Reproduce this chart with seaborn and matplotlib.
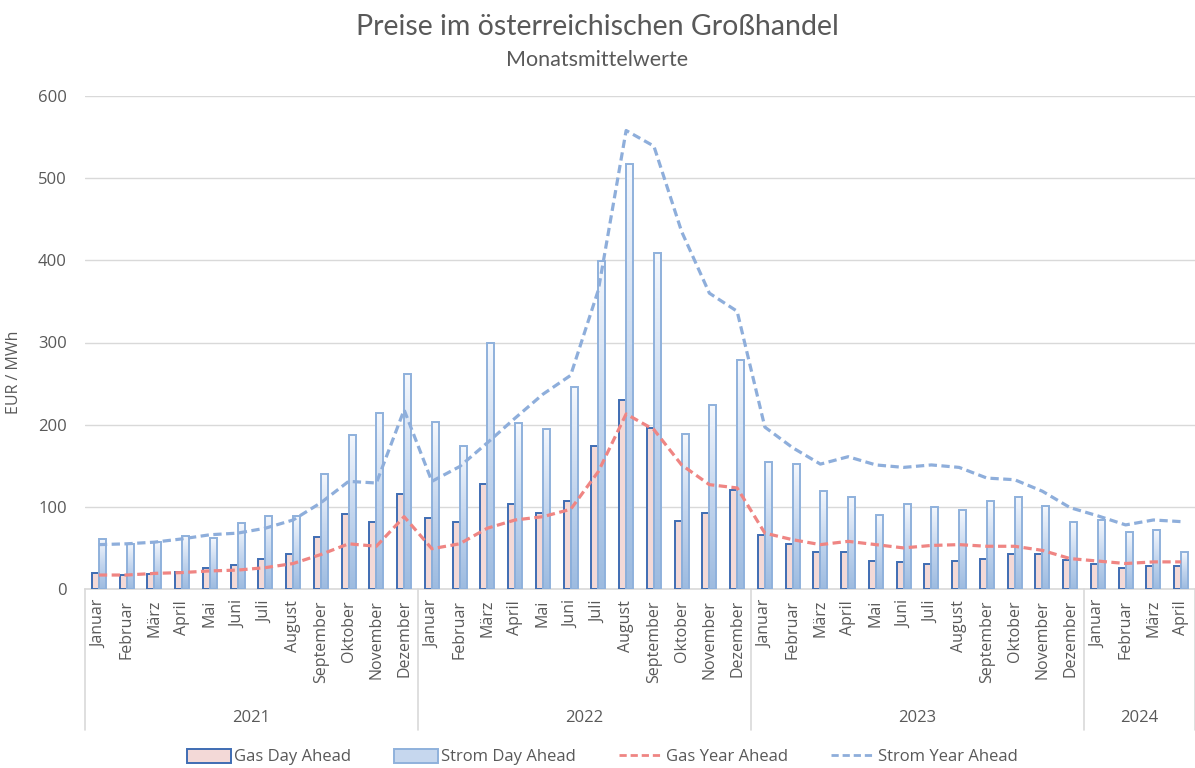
import numpy as np
import pandas as pd
import seaborn as sns
import matplotlib.pyplot as plt
from matplotlib.patches import Patch
from matplotlib.lines import Line2D
from matplotlib.colors import LinearSegmentedColormap

# monthly means, EUR / MWh
months = ["Januar", "Februar", "März", "April", "Mai", "Juni", "Juli",
          "August", "September", "Oktober", "November", "Dezember"]
month_labels = months * 3 + months[:4]
years = ["2021"] * 12 + ["2022"] * 12 + ["2023"] * 12 + ["2024"] * 4

gas_day_ahead = [19, 17, 18, 21, 26, 29, 36, 42, 63, 91, 81, 116,
                 87, 82, 128, 104, 92, 107, 174, 230, 196, 83, 93, 120,
                 66, 55, 45, 45, 34, 33, 31, 34, 37, 42, 42, 35,
                 30, 26, 28, 28]
strom_day_ahead = [61, 55, 57, 64, 62, 80, 89, 89, 140, 188, 214, 262,
                   203, 174, 299, 202, 195, 246, 399, 517, 409, 189, 224, 279,
                   155, 152, 119, 112, 90, 103, 100, 96, 107, 112, 101, 81,
                   84, 69, 72, 45]
gas_year_ahead = [17, 17, 19, 20, 22, 23, 26, 31, 42, 55, 52, 88,
                  49, 55, 74, 84, 88, 97, 143, 213, 194, 151, 127, 123,
                  68, 60, 54, 58, 54, 50, 53, 54, 52, 52, 47, 37,
                  34, 31, 33, 33]
strom_year_ahead = [54, 55, 57, 61, 66, 68, 74, 84, 105, 131, 129, 218,
                    131, 149, 178, 208, 237, 260, 364, 558, 539, 435, 360, 338,
                    197, 172, 152, 161, 151, 148, 151, 148, 135, 133, 119, 99,
                    89, 78, 84, 82]

TXT = "#595959"
GRID = "#d9d9d9"
GAS_FACE = "#f3d9d7"
GAS_EDGE = "#3f6db3"
STROM_EDGE = "#8fb1dc"
GAS_LINE = "#ef8583"
STROM_LINE = "#8eaedb"
FS = 11.5

sns.set_style("white")
plt.rcParams['font.family'] = ['Open Sans', 'DejaVu Sans']

keys = [f"{y}-{m}" for y, m in zip(years, month_labels)]
n = len(keys)
bars = pd.DataFrame({
    "key": keys * 2,
    "value": gas_day_ahead + strom_day_ahead,
    "serie": ["Gas Day Ahead"] * n + ["Strom Day Ahead"] * n,
})

fig = plt.figure(figsize=(11.95, 7.68), dpi=100)
ax = fig.add_axes([85 / 1195, 1 - 589 / 768, 1110 / 1195, 493 / 768])

sns.barplot(data=bars, x="key", y="value", hue="serie", order=keys,
            hue_order=["Gas Day Ahead", "Strom Day Ahead"],
            palette=[GAS_FACE, "#c6d7ee"], saturation=1, width=0.5,
            legend=False, ax=ax, zorder=3)

# gas bars: pink with dark blue outline
for p in ax.containers[0]:
    p.set_edgecolor(GAS_EDGE)
    p.set_linewidth(1.4)

# strom bars: vertical gradient light -> blue
grad = np.linspace(0, 1, 128).reshape(-1, 1)
cmap = LinearSegmentedColormap.from_list("strom", ["#9dbbe0", "#c4d6ee", "#f5f8fd"])
for p in ax.containers[1]:
    x0, w, h = p.get_x(), p.get_width(), p.get_height()
    ax.imshow(grad, cmap=cmap, extent=[x0, x0 + w, 0, h], origin="lower",
              aspect="auto", zorder=2.9, interpolation="bilinear")
    p.set_facecolor("none")
    p.set_edgecolor(STROM_EDGE)
    p.set_linewidth(1.4)

pos = list(range(n))
sns.lineplot(x=pos, y=gas_year_ahead, color=GAS_LINE, linewidth=2.3,
             linestyle=(0, (2.6, 1.4)), ax=ax, zorder=4)
sns.lineplot(x=pos, y=strom_year_ahead, color=STROM_LINE, linewidth=2.3,
             linestyle=(0, (2.6, 1.4)), ax=ax, zorder=4)

ax.set_xlim(-0.5, n - 0.5)
ax.set_ylim(0, 600)
ax.set_yticks(range(0, 601, 100))
ax.yaxis.grid(True, color=GRID, linewidth=1)
ax.set_axisbelow(True)
for s in ["top", "right", "left"]:
    ax.spines[s].set_visible(False)
ax.spines["bottom"].set_color(GRID)
ax.spines["bottom"].set_linewidth(1.2)

ax.set_xticks(pos)
ax.set_xticklabels(month_labels, rotation=90)
ax.tick_params(axis="x", length=0, pad=8, labelsize=FS, labelcolor=TXT)
ax.tick_params(axis="y", length=0, pad=13, labelsize=12, labelcolor=TXT)
ax.set_xlabel("")
ax.set_ylabel("EUR / MWh", color=TXT, fontsize=FS)
ax.yaxis.set_label_coords(-0.057, 0.44)

# year group axis
trans = ax.get_xaxis_transform()
for xb in [-0.5, 11.5, 23.5, 35.5, n - 0.5]:
    ax.plot([xb, xb], [0, -0.286], transform=trans, color=GRID,
            linewidth=1.2, clip_on=False)
for yr in ["2021", "2022", "2023", "2024"]:
    idx = [i for i, y in enumerate(years) if y == yr]
    ax.text((idx[0] + idx[-1]) / 2, -0.262, yr, transform=trans,
            ha="center", va="center", fontsize=12, color=TXT)

fig.text(0.5, 1 - 27 / 768, "Preise im österreichischen Großhandel",
         ha="center", va="center", fontsize=20.5, color=TXT, family="Lato")
fig.text(0.5, 1 - 60 / 768, "Monatsmittelwerte",
         ha="center", va="center", fontsize=15.5, color=TXT, family="Lato")

handles = [
    Patch(facecolor=GAS_FACE, edgecolor=GAS_EDGE, linewidth=1.4),
    Patch(facecolor="#c6d7ee", edgecolor=STROM_EDGE, linewidth=1.4),
    Line2D([], [], color=GAS_LINE, linewidth=2, linestyle=(0, (2.6, 1.4))),
    Line2D([], [], color=STROM_LINE, linewidth=2, linestyle=(0, (2.6, 1.4))),
]
fig.legend(handles, ["Gas Day Ahead", "Strom Day Ahead", "Gas Year Ahead",
                     "Strom Year Ahead"],
           loc="center", bbox_to_anchor=(0.504, 1 - 757 / 768), ncol=4,
           frameon=False, fontsize=12, labelcolor=TXT, handlelength=2.6,
           handleheight=0.9, handletextpad=0.2, columnspacing=2.6)

fig.savefig("out.png", dpi=100)
